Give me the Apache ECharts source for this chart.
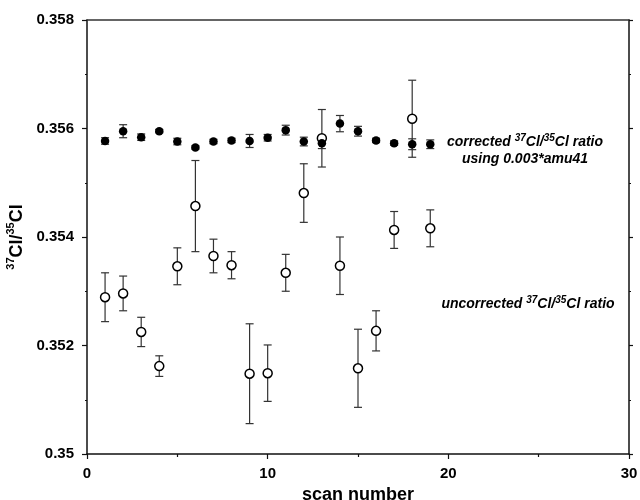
<!DOCTYPE html>
<html>
<head>
    <meta charset="UTF-8">
    <title>37Cl/35Cl ratio</title>
    <script src="https://cdn.jsdelivr.net/npm/echarts@6/dist/echarts.min.js"></script>
    <style>html,body{margin:0;padding:0;background:#fff;} #chart{width:640px;height:500px;}</style>
</head>
<body>
<div id="chart"></div>
<script>
    // scan numbers
    var scans = [1, 2, 3, 4, 5, 6, 7, 8, 9, 10, 11, 12, 13, 14, 15, 16, 17, 18, 19];
    // corrected 37Cl/35Cl ratio (0.003*amu41) and its error
    var corrected = [0.35577, 0.35595, 0.35584, 0.35595, 0.35576, 0.35565, 0.35576, 0.35578, 0.35577, 0.35583,
                     0.35597, 0.35576, 0.35573, 0.35609, 0.35595, 0.35578, 0.35573, 0.35571, 0.35571];
    var correctedErr = [0.00006, 0.00012, 0.00006, 0.00003, 0.00006, 0.00003, 0.00004, 0.00004, 0.00012, 0.00006,
                        0.00009, 0.00008, 0.0001, 0.00015, 0.00009, 0.00004, 0.00004, 0.0001, 0.00008];
    // uncorrected ratio and its error
    var uncorrected = [0.35289, 0.35296, 0.35225, 0.35162, 0.35346, 0.35457, 0.35365, 0.35348, 0.35148, 0.35149,
                       0.35334, 0.35481, 0.35582, 0.35347, 0.35158, 0.35227, 0.35413, 0.35618, 0.35416];
    var uncorrectedErr = [0.00045, 0.00032, 0.00027, 0.00019, 0.00034, 0.00084, 0.00031, 0.00025, 0.00092, 0.00052,
                          0.00034, 0.00054, 0.00053, 0.00053, 0.00072, 0.00037, 0.00034, 0.00071, 0.00034];
    var xTicks = [0, 10, 20, 30];
    var yTicks = [0.35, 0.352, 0.354, 0.356, 0.358];

    var fontFamily = '"Liberation Sans", Arial, sans-serif';
    var axisColor = '#111';

    function points(vals) {
        return scans.map(function (s, i) { return [s, vals[i]]; });
    }
    function bars(vals, errs) {
        return scans.map(function (s, i) { return [s, vals[i] - errs[i], vals[i] + errs[i]]; });
    }

    // draw one error bar with caps
    function errorBar(params, api) {
        var x = api.value(0);
        var top = api.coord([x, api.value(2)]);
        var bot = api.coord([x, api.value(1)]);
        var w = 4;
        var st = { stroke: '#333', lineWidth: 1.2 };
        return {
            type: 'group',
            children: [
                { type: 'line', shape: { x1: top[0], y1: top[1], x2: bot[0], y2: bot[1] }, style: st },
                { type: 'line', shape: { x1: top[0] - w, y1: top[1], x2: top[0] + w, y2: top[1] }, style: st },
                { type: 'line', shape: { x1: bot[0] - w, y1: bot[1], x2: bot[0] + w, y2: bot[1] }, style: st }
            ]
        };
    }

    var noteRich = {
        n: { fontSize: 14, fontWeight: 'bold', fontStyle: 'italic', fontFamily: fontFamily, fill: '#000', lineHeight: 16, verticalAlign: 'bottom' },
        s: { fontSize: 10, fontWeight: 'bold', fontStyle: 'italic', fontFamily: fontFamily, fill: '#000', lineHeight: 16, verticalAlign: 'top' }
    };

    var myChart = echarts.init(document.getElementById('chart'));
    var option = {
        backgroundColor: '#fff',
        animation: false,
        grid: { left: 87, right: 11, top: 20, bottom: 46, outerBoundsMode: 'none' },
        xAxis: [{
            type: 'value',
            position: 'bottom',
            min: xTicks[0],
            max: xTicks[xTicks.length - 1],
            interval: 10,
            name: 'scan number',
            nameLocation: 'middle',
            nameGap: 24,
            nameTextStyle: { fontSize: 18, fontWeight: 'bold', fontFamily: fontFamily, color: '#000' },
            axisLine: { lineStyle: { color: axisColor, width: 1.5 } },
            axisTick: { length: 5, lineStyle: { color: axisColor, width: 1.2 } },
            minorTick: { show: true, splitNumber: 2, length: 3, lineStyle: { color: axisColor, width: 1.2 } },
            axisLabel: { fontSize: 15, fontWeight: 'bold', fontFamily: fontFamily, color: '#000', margin: 12 },
            splitLine: { show: false }
        }, {
            type: 'value',
            position: 'top',
            min: 0,
            max: 30,
            axisLine: { onZero: false, lineStyle: { color: '#333', width: 1.5 } },
            axisTick: { show: false },
            axisLabel: { show: false },
            splitLine: { show: false }
        }],
        yAxis: [{
            type: 'value',
            position: 'left',
            min: yTicks[0],
            max: yTicks[yTicks.length - 1],
            interval: 0.002,
            name: '{s|37}{n|Cl/}{s|35}{n|Cl}',
            nameLocation: 'middle',
            nameRotate: 90,
            nameGap: 56,
            nameTextStyle: {
                color: '#000',
                rich: {
                    n: { fontSize: 18, fontWeight: 'bold', fontFamily: fontFamily, color: '#000', lineHeight: 20, verticalAlign: 'bottom' },
                    s: { fontSize: 11, fontWeight: 'bold', fontFamily: fontFamily, color: '#000', lineHeight: 20, verticalAlign: 'top' }
                }
            },
            axisLine: { onZero: false, lineStyle: { color: axisColor, width: 1.5 } },
            axisTick: { length: 5, lineStyle: { color: axisColor, width: 1.2 } },
            minorTick: { show: true, splitNumber: 2, length: 2, lineStyle: { color: axisColor, width: 1.2 } },
            axisLabel: { fontSize: 15, fontWeight: 'bold', fontFamily: fontFamily, color: '#000', margin: 13 },
            splitLine: { show: false }
        }, {
            type: 'value',
            position: 'right',
            min: 0.35,
            max: 0.358,
            interval: 0.002,
            axisLine: { show: true, onZero: false, lineStyle: { color: axisColor, width: 1.5 } },
            axisTick: { show: true, length: 4, lineStyle: { color: axisColor, width: 1.2 } },
            minorTick: { show: true, splitNumber: 2, length: 2, lineStyle: { color: axisColor, width: 1.2 } },
            axisLabel: { show: false },
            splitLine: { show: false }
        }],
        graphic: [
            {
                type: 'text', x: 525, y: 141,
                style: { text: '{n|corrected }{s|37}{n|Cl/}{s|35}{n|Cl ratio}', rich: noteRich, textAlign: 'center', textVerticalAlign: 'middle' }
            },
            {
                type: 'text', x: 525, y: 158,
                style: { text: '{n|using 0.003*amu41}', rich: noteRich, textAlign: 'center', textVerticalAlign: 'middle' }
            },
            {
                type: 'text', x: 528, y: 303,
                style: { text: '{n|uncorrected }{s|37}{n|Cl/}{s|35}{n|Cl ratio}', rich: noteRich, textAlign: 'center', textVerticalAlign: 'middle' }
            }
        ],
        series: [
            {
                name: 'uncorrected error',
                type: 'custom',
                renderItem: errorBar,
                encode: { x: 0, y: [1, 2] },
                data: bars(uncorrected, uncorrectedErr)
            },
            {
                name: 'uncorrected',
                type: 'scatter',
                symbol: 'circle',
                symbolSize: 9,
                itemStyle: { color: '#fff', borderColor: '#000', borderWidth: 1.5, opacity: 1 },
                data: points(uncorrected)
            },
            {
                name: 'corrected error',
                type: 'custom',
                renderItem: errorBar,
                encode: { x: 0, y: [1, 2] },
                data: bars(corrected, correctedErr)
            },
            {
                name: 'corrected',
                type: 'scatter',
                symbol: 'circle',
                symbolSize: 8.5,
                itemStyle: { color: '#000', opacity: 1 },
                data: points(corrected)
            }
        ]
    };
    myChart.setOption(option);
</script>
</body>
</html>
